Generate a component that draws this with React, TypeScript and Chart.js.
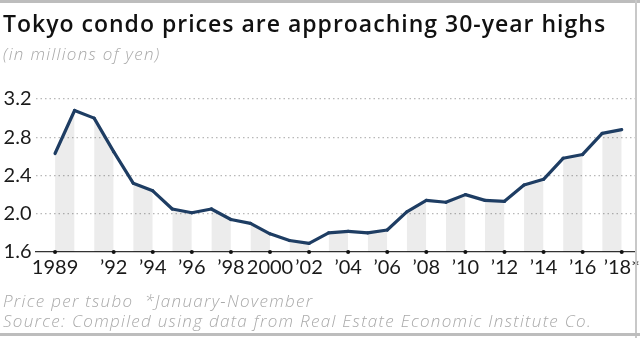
import React, { useEffect, useRef } from "react";
import { Chart, registerables } from "chart.js";

Chart.register(...registerables);

const years = [
  1989, 1990, 1991, 1992, 1993, 1994, 1995, 1996, 1997, 1998,
  1999, 2000, 2001, 2002, 2003, 2004, 2005, 2006, 2007, 2008,
  2009, 2010, 2011, 2012, 2013, 2014, 2015, 2016, 2017, 2018,
];
const prices = [
  2.63, 3.08, 3.0, 2.65, 2.32, 2.24, 2.05, 2.01, 2.05, 1.94,
  1.9, 1.79, 1.72, 1.69, 1.8, 1.815, 1.8, 1.83, 2.02, 2.14,
  2.12, 2.2, 2.14, 2.13, 2.3, 2.36, 2.58, 2.62, 2.84, 2.88,
];
const tickYears = [1989, 1992, 1994, 1996, 1998, 2000, 2002, 2004, 2006, 2008, 2010, 2012, 2014, 2016, 2018];
const tickLabels = ["1989", "’92", "’94", "’96", "’98", "2000", "’02", "’04", "’06", "’08", "’10", "’12", "’14", "’16", "’18*"];
const yTicks = [1.6, 2.0, 2.4, 2.8, 3.2];

const FONT = "Lato, 'Noto Sans', sans-serif";
const TFONT = "'Open Sans', 'Noto Sans', sans-serif";
const STRIPE = "rgba(0,0,0,0.075)";

export default function App() {
  const ref = useRef<HTMLCanvasElement | null>(null);

  useEffect(() => {
    if (!ref.current) return;
    const chart = new Chart(ref.current, {
      type: "line",
      data: {
        datasets: [
          {
            type: "line",
            data: years.map((y, i) => ({ x: y, y: prices[i] })),
            borderColor: "#1e3d63",
            borderWidth: 3.2,
            borderJoinStyle: "round",
            borderCapStyle: "round",
            pointRadius: 0,
            tension: 0,
            fill: "start",
            backgroundColor: STRIPE,
            segment: {
              backgroundColor: (c: any) => (c.p0DataIndex % 2 === 0 ? STRIPE : "rgba(0,0,0,0)"),
            },
            order: 2,
          } as any,
          {
            type: "scatter",
            data: tickYears.map((x) => ({ x, y: yTicks[0] })),
            pointRadius: 2,
            pointBackgroundColor: "#111",
            pointBorderWidth: 0,
            showLine: false,
            clip: false,
            order: 1,
          } as any,
        ],
      },
      options: {
        animation: false,
        responsive: false,
        devicePixelRatio: 1,
        layout: { padding: { top: 99, right: 4.6, left: 0, bottom: 0 } },
        plugins: { legend: { display: false }, tooltip: { enabled: false }, title: { display: false } },
        scales: {
          x: {
            type: "linear",
            min: 1988,
            max: 2018.7,
            afterBuildTicks: (s: any) => {
              s.ticks = tickYears.map((v) => ({ value: v }));
            },
            afterFit: (s: any) => {
              s.height = 86;
              s.paddingLeft = 0;
              s.paddingRight = 0;
            },
            ticks: {
              autoSkip: false,
              maxRotation: 0,
              minRotation: 0,
              padding: 4,
              color: "#1a1a1a",
              font: { family: FONT, size: 20 },
              callback: (_v: any, i: number) => tickLabels[i],
            },
            grid: { display: false, drawTicks: false },
            border: { display: true, color: "#333", width: 1.3 },
          },
          y: {
            type: "linear",
            min: 1.6,
            max: 3.2,
            afterBuildTicks: (s: any) => {
              s.ticks = yTicks.map((v) => ({ value: v }));
            },
            afterFit: (s: any) => {
              s.width = 35.5;
              s.paddingTop = 0;
              s.paddingBottom = 0;
            },
            ticks: {
              padding: 4,
              color: "#1a1a1a",
              font: { family: FONT, size: 20 },
              callback: (v: any) => Number(v).toFixed(1),
            },
            grid: {
              drawTicks: false,
              lineWidth: 1.2,
              color: (c: any) => (c.tick && c.tick.value === yTicks[0] ? "rgba(0,0,0,0)" : "#b8b8b8"),
            },
            border: { display: false, dash: [1.5, 3] },
          },
        },
      } as any,
    });
    return () => chart.destroy();
  }, []);

  const gray = "#a9a9a9";
  const note = { position: "absolute" as const, left: 3, fontFamily: TFONT, fontWeight: 300, fontStyle: "italic", fontSize: 17, lineHeight: "17px", letterSpacing: "1.3px", color: gray, whiteSpace: "pre" as const };
  return (
    <div style={{ position: "fixed", left: 0, top: 0, width: 640, height: 338, background: "#fff", overflow: "hidden" }}>
      <canvas ref={ref} width={640} height={338} style={{ position: "absolute", left: 0, top: 0, width: 640, height: 338 }} />
      <div style={{ position: "absolute", left: 0, top: 0, width: 640, height: 2.5, background: "#bdbdbd" }} />
      <div style={{ position: "absolute", left: 635, top: 0, width: 1.5, height: 338, background: "#c8c8c8" }} />
      <div style={{ position: "absolute", left: 0, top: 333, width: 640, height: 2.5, background: "#bdbdbd" }} />
      <div style={{ position: "absolute", left: 3, top: 12, fontFamily: TFONT, fontWeight: 600, fontSize: 23, lineHeight: "23px", letterSpacing: "1px", color: "#111", whiteSpace: "pre" }}>
        Tokyo condo prices are approaching 30-year highs
      </div>
      <div style={{ ...note, top: 45 }}>(in millions of yen)</div>
      <div style={{ ...note, top: 291.5 }}>{"Price per tsubo  *January-November"}</div>
      <div style={{ ...note, top: 311.5 }}>Source: Compiled using data from Real Estate Economic Institute Co.</div>
    </div>
  );
}
